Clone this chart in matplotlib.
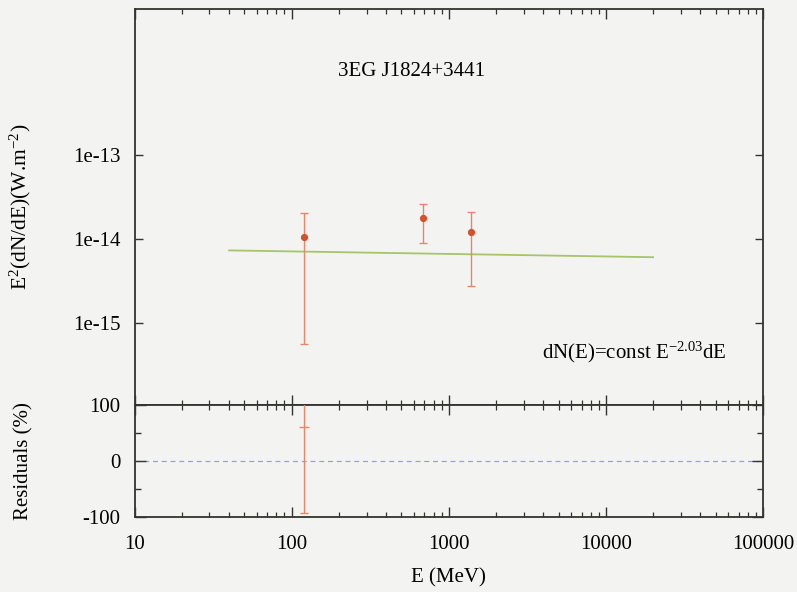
import numpy as np
import matplotlib
matplotlib.use("Agg")
import matplotlib.pyplot as plt
from matplotlib.ticker import FixedLocator, FixedFormatter, NullLocator, LogLocator, NullFormatter

plt.rcParams['font.family'] = ['Liberation Serif', 'DejaVu Serif']
plt.rcParams['mathtext.fontset'] = 'custom'
plt.rcParams['mathtext.rm'] = 'Liberation Serif'
plt.rcParams['mathtext.it'] = 'Liberation Serif'
plt.rcParams['mathtext.default'] = 'rm'
plt.rcParams['axes.unicode_minus'] = False

# Measured SED points (MeV, W m^-2)
energy_mev = [120, 690, 1385]
flux = [1.05e-14, 1.76e-14, 1.20e-14]
flux_lo = [5.7e-16, 9.0e-15, 2.76e-15]
flux_hi = [2.04e-14, 2.61e-14, 2.11e-14]

# Power-law fit dN/dE ~ E^-2.03
model_energy = [40, 20000]
spectral_index = 2.03
model_norm = 7.33e-15   # E^2 dN/dE at the first model energy

# Residuals (%)
resid_energy = [120]
resid = [60]
resid_lo = [-93]
resid_hi = [190]

x_ticks = [10, 100, 1000, 10000, 100000]
x_labels = ['10', '100', '1000', '10000', '100000']
y_ticks = [1e-15, 1e-14, 1e-13]
y_labels = ['1e-15', '1e-14', '1e-13']
r_ticks = [-100, 0, 100]
r_labels = ['-100', '0', '100']

bg = '#f3f4f2'
axc = '#34342f'
err_col = '#e8866a'
pt_col = '#d4512e'
fit_col = '#a6c46a'
zero_col = '#a0a0d0'
fs = 15

fig = plt.figure(figsize=(7.97, 5.92), dpi=100, facecolor=bg)
W, H = 797, 592
L, R = 134.5 / W, 763 / W
ax = fig.add_axes([L, 1 - 405 / H, R - L, (405 - 9) / H])
axr = fig.add_axes([L, 1 - 517 / H, R - L, (517 - 405) / H], sharex=ax)

for a in (ax, axr):
    a.set_facecolor(bg)
    a.set_xscale('log')
    a.set_xlim(10, 100000)
    for s in a.spines.values():
        s.set_color(axc)
        s.set_linewidth(1.3)

# Upper panel: spectrum
me = np.array(model_energy, dtype=float)
model_flux = model_norm * (me / me[0]) ** (2 - spectral_index)
ax.plot(me, model_flux, color=fit_col, lw=1.3, zorder=2)

f = np.array(flux)
yerr = [f - np.array(flux_lo), np.array(flux_hi) - f]
ax.errorbar(energy_mev, f, yerr=yerr, fmt='o', color=pt_col, ms=4.2,
            ecolor=err_col, elinewidth=1.0, capsize=3, capthick=1.0, zorder=3)

ax.set_yscale('log')
ax.set_ylim(1.06e-16, 5.47e-12)
ax.yaxis.set_major_locator(FixedLocator(y_ticks))
ax.yaxis.set_major_formatter(FixedFormatter(y_labels))
ax.yaxis.set_minor_locator(NullLocator())
ax.tick_params(axis='y', which='major', direction='in', length=6, width=1.0,
               color=axc, left=True, right=True, labelsize=fs, pad=10)
ax.tick_params(axis='x', which='major', direction='in', length=7, width=1.0,
               color=axc, top=True, bottom=True, labelbottom=False)
ax.tick_params(axis='x', which='minor', direction='in', length=3.5, width=0.9,
               color=axc, top=True, bottom=True, labelbottom=False)
ax.set_ylabel(r'E$^{2}$(dN/dE)(W.m$^{-2}$)', fontsize=15.5)

ax.text(0.441, 0.841, '3EG J1824+3441', transform=ax.transAxes,
        fontsize=fs, ha='center', va='center')
ax.text(0.648, 0.134, r'dN(E)=const E$^{-2.03}$dE', transform=ax.transAxes,
        fontsize=fs, ha='left', va='center')

# Lower panel: residuals
axr.axhline(0, color=zero_col, lw=0.9, ls=(0, (4, 3)), zorder=1)
rr = np.array(resid, dtype=float)
rerr = [rr - np.array(resid_lo), np.array(resid_hi) - rr]
axr.errorbar(resid_energy, rr, yerr=rerr, fmt='_', color=err_col, ms=7, mew=1.0,
             ecolor=err_col, elinewidth=1.0, capsize=3, capthick=1.0, zorder=3)
axr.set_ylim(-100, 100)
axr.yaxis.set_major_locator(FixedLocator(r_ticks))
axr.yaxis.set_major_formatter(FixedFormatter(r_labels))
axr.yaxis.set_minor_locator(FixedLocator([-50, 50]))
axr.tick_params(axis='y', which='major', direction='in', length=8, width=1.0,
                color=axc, left=True, right=True, labelsize=fs, pad=10)
axr.tick_params(axis='y', which='minor', direction='in', length=4, width=1.0,
                color=axc, left=True, right=True)
axr.set_ylabel('Residuals (%)', fontsize=fs)

axr.xaxis.set_major_locator(FixedLocator(x_ticks))
axr.xaxis.set_major_formatter(FixedFormatter(x_labels))
axr.xaxis.set_minor_locator(LogLocator(base=10, subs=np.arange(2, 10), numticks=20))
axr.xaxis.set_minor_formatter(NullFormatter())
axr.tick_params(axis='x', which='major', direction='in', length=7, width=1.0,
                color=axc, top=True, bottom=True, labelsize=fs, pad=13)
axr.tick_params(axis='x', which='minor', direction='in', length=3.5, width=0.9,
                color=axc, top=True, bottom=True)
axr.set_xlabel('E (MeV)', fontsize=fs, labelpad=10)

ax.yaxis.set_label_coords(-0.1615, 0.5)
axr.yaxis.set_label_coords(-0.1615, 0.5)

fig.savefig('out.png', dpi=100, facecolor=bg)
